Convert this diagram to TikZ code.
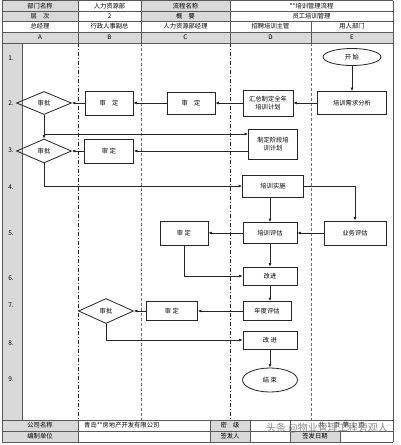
\documentclass[tikz,border=0pt]{standalone}
\usepackage{fontspec}
\setmainfont{Noto Sans CJK SC}
\usetikzlibrary{shapes.geometric,arrows.meta}
\begin{document}
\begin{tikzpicture}[x=1pt,y=-1pt,
  every node/.style={font=\fontsize{6.3}{7.5}\selectfont, inner sep=0pt},
  bx/.style 2 args={draw=black!85, line width=0.8pt, minimum width=#1pt, minimum height=#2pt, align=center},
  ov/.style 2 args={ellipse, draw=black!85, line width=0.8pt, minimum width=#1pt, minimum height=#2pt},
  dm/.style 2 args={diamond, draw=black!85, line width=0.8pt, minimum width=#1pt, minimum height=#2pt},
  arr/.style={draw=black!85, line width=0.8pt, -{Latex[length=3.5pt,width=3pt]}},
  grid/.style={draw=black!65, line width=0.5pt},
  hd/.style={fill=black!15},
  lanea/.style={draw=black!85, line width=0.6pt, dash pattern=on 4pt off 2pt on 1pt off 2pt},
  laneb/.style={draw=black!55, line width=0.6pt, dash pattern=on 3pt off 2pt},
  num/.style={font=\fontsize{6.5}{7.5}\selectfont},
]
\useasboundingbox (0,0) rectangle (400,445);
\fill[white] (0,0) rectangle (400,445);
% gray fills
\fill[hd] (2,0) rectangle (78,21);
\fill[hd] (141,0) rectangle (230,21);
\fill[hd] (2,32) rectangle (393,43);
\fill[hd] (2,43) rectangle (22,420);
\fill[hd] (2,420) rectangle (78,442);
\fill[hd] (210,420) rectangle (250,442);
\fill[hd] (290,431) rectangle (340,442);
% lane lines
\draw[lanea] (78,43) -- (78,420);
\draw[laneb] (141,43) -- (141,420);
\draw[lanea] (230,43) -- (230,420);
\draw[laneb] (311,43) -- (311,420);
% grid
\foreach \yy in {0.5,11,21,32,43,420,431,442} \draw[grid] (2,\yy) -- (393,\yy);
\draw[grid] (2,0.5) -- (2,442);
\draw[grid] (393,0.5) -- (393,442);
\foreach \xx in {78,141,230} \draw[grid] (\xx,0.5) -- (\xx,43);
\draw[grid] (311,21) -- (311,43);
\draw[grid] (22,43) -- (22,420);
\foreach \xx in {78,210,250,290} \draw[grid] (\xx,420) -- (\xx,442);
\draw[grid] (340,431) -- (340,442);
% header texts
\node (h11) at (40,5.7) {部门名称};
\node (h12) at (109.5,5.7) {人力资源部};
\node (h13) at (185.5,5.7) {流程名称};
\node (h14) at (311.5,5.7) {**培训管理流程};
\node (h21) at (40,16) {层\quad 次};
\node (h22) at (109.5,16) {2};
\node (h23) at (185.5,16) {概\quad 要};
\node (h24) at (311.5,16) {员工培训管理};
\node (h31) at (40,26.5) {总经理};
\node (h32) at (109.5,26.5) {行政人事副总};
\node (h33) at (185.5,26.5) {人力资源部经理};
\node (h34) at (270.5,26.5) {招聘培训主管};
\node (h35) at (352,26.5) {用人部门};
\node (h41) at (40,37.5) {A};
\node (h42) at (109.5,37.5) {B};
\node (h43) at (185.5,37.5) {C};
\node (h44) at (270.5,37.5) {D};
\node (h45) at (352,37.5) {E};
% row numbers
\node[num] (n1) at (11,58) {1.};
\node[num] (n2) at (11,103) {2.};
\node[num] (n3) at (11,150) {3.};
\node[num] (n4) at (11,187) {4.};
\node[num] (n5) at (11,233) {5.};
\node[num] (n6) at (11,278) {6.};
\node[num] (n7) at (11,305) {7.};
\node[num] (n8) at (11,343) {8.};
\node[num] (n9) at (11,379) {9.};
% footer texts
\node (f11) at (40,425.5) {公司名称};
\node[anchor=west] (f12) at (84,425.5) {青岛**房地产开发有限公司};
\node (f13) at (230,425.5) {密\quad 级};
\node (f14) at (341.5,425.5) {共\ \ 1\ \ 页\ \ 第\ \ 1\ \ 页};
\node (f21) at (40,436.5) {编制单位};
\node (f23) at (230,436.5) {签发人};
\node (f24) at (315,436.5) {签发日期};
% flow nodes
\node[ov={58}{17}] (start) at (352,57) {开\ 始};
\node[bx={69}{23}] (need) at (352,103) {培训需求分析};
\node[bx={50}{26}] (summ) at (268,103) {汇总制定全年\\培训计划};
\node[bx={48}{22}] (c1) at (191,103) {审\quad 定};
\node[bx={48}{24}] (b1) at (109,103) {审\quad 定};
\node[dm={55}{23}] (a1) at (44,103) {审批};
\node[bx={49}{30}] (plan) at (273,144) {制定阶段培\\训计划};
\node[bx={49}{24}] (b2) at (109,151) {审\ 定};
\node[dm={55}{24}] (a2) at (44,151) {审批};
\node[bx={61}{22}] (impl) at (273,186) {培训实施};
\node[bx={62}{24}] (biz) at (355,233) {业务评估};
\node[bx={54}{21}] (eval) at (270,233) {培训评估};
\node[bx={48}{24}] (c5) at (184,233) {审\ 定};
\node[bx={54}{18}] (imp1) at (270,276) {改进};
\node[bx={48}{19}] (year) at (267,311) {年度评估};
\node[bx={51}{19}] (c7) at (172,311) {审\ 定};
\node[dm={55}{25}] (b7) at (106,311) {审批};
\node[bx={54}{18}] (imp2) at (270,340) {改\ 进};
\node[ov={55}{24}] (end) at (270,380) {结\ 束};
\coordinate (j1) at (44,134);
% connectors
\draw[arr] (start) -- (need);
\draw[arr] (need) -- (summ);
\draw[arr] (summ) -- (c1);
\draw[arr] (c1) -- (b1);
\draw[arr] (b1) -- (a1);
\draw[arr] (a1) -- (a2);
\draw[arr] (j1) -- (j1 -| plan.west);
\draw[arr] (plan.west |- b2) -- (b2);
\draw[arr] (b2) -- (a2);
\draw[arr] (a2.south) |- (impl.west);
\draw[arr] (impl.east) -| (biz.north);
\draw[arr] (eval.north |- impl.south) -- (eval.north);
\draw[arr] (biz) -- (eval);
\draw[arr] (eval) -- (c5);
\draw[arr] (c5.south) |- (imp1.west);
\draw[arr] (eval) -- (imp1);
\draw[arr] (imp1.south) -- (imp1.south |- year.north);
\draw[arr] (year) -- (c7);
\draw[arr] (c7) -- (b7);
\draw[arr] (b7.south) |- (imp2.west);
\draw[arr] (imp2) -- (end);
% watermark
\node[text=black!45, font=\fontsize{10}{11}\selectfont, anchor=west] (wm) at (266,428) {头条 @物业管理工程旁观人};
\end{tikzpicture}
\end{document}
